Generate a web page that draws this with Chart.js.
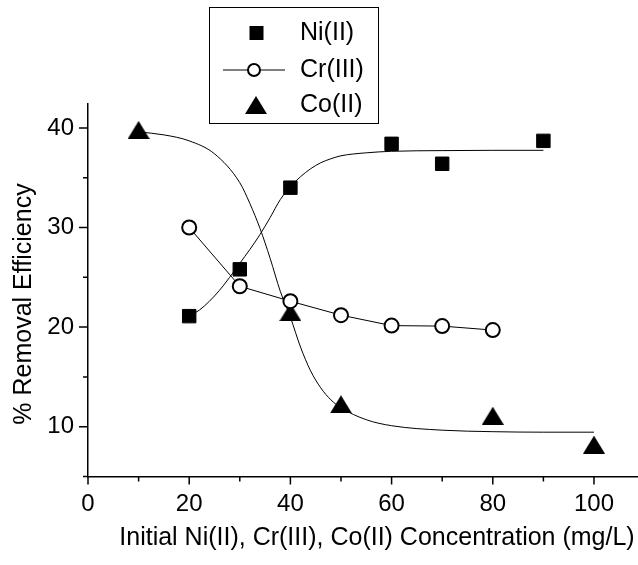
<!DOCTYPE html>
<html>
<head>
<meta charset="utf-8">
<script src="https://cdn.jsdelivr.net/npm/chart.js@4"></script>
<style>
  html, body { margin: 0; padding: 0; background: #fff; overflow: hidden; }
  #wrap { width: 638px; height: 565px; }
</style>
</head>
<body>
<div id="wrap"><canvas id="chart" width="638" height="565"></canvas></div>
<script>
// measured points
const niX = [20, 30, 40, 60, 70, 90];
const niY = [21.1, 25.8, 34.0, 38.4, 36.4, 38.7];
const crX = [20, 30, 40, 50, 60, 70, 80];
const crY = [30.0, 24.1, 22.6, 21.2, 20.15, 20.1, 19.7];
const coX = [10, 40, 50, 80, 100];
const coY = [39.8, 21.5, 12.25, 11.1, 8.2];

// fitted curves
const niFitX = [20, 22, 24, 26, 28, 30, 32, 34, 36, 38, 40, 42, 44, 46, 48, 50, 55, 60, 70, 80, 90];
const niFitY = [21.1, 21.7, 22.6, 23.7, 25.0, 26.4, 27.8, 29.3, 31.0, 32.8, 34.1, 35.1, 35.9, 36.5, 36.9, 37.2, 37.5, 37.65, 37.72, 37.75, 37.75];
const coFitX = [10, 15, 20, 25, 30, 32, 34, 36, 38, 40, 42, 44, 46, 48, 50, 55, 60, 70, 80, 90, 100];
const coFitY = [39.6, 39.3, 38.7, 37.4, 34.5, 32.4, 29.9, 26.9, 23.6, 21.0, 18.0, 15.6, 13.9, 12.7, 11.9, 10.7, 10.1, 9.65, 9.5, 9.45, 9.45];

// axis ticks
const xTickLabels = [0, 20, 40, 60, 80, 100];
const yTickLabels = [10, 20, 30, 40];
const xMinorTicks = [10, 30, 50, 70, 90];
const yMinorTicks = [5, 15, 25, 35];

const legendLabels = ['Ni(II)', 'Cr(III)', 'Co(II)'];
const xTitle = 'Initial Ni(II), Cr(III), Co(II) Concentration (mg/L)';
const yTitle = '% Removal Efficiency';

const FONT = "'Liberation Sans', Arial, sans-serif";

// filled triangle marker, centred on its bounding box
function makeTriangle(w, h) {
    const c = document.createElement('canvas');
    c.width = w;
    c.height = h;
    const g = c.getContext('2d');
    g.fillStyle = '#000';
    g.beginPath();
    g.moveTo(w / 2, 0);
    g.lineTo(w, h);
    g.lineTo(0, h);
    g.closePath();
    g.fill();
    return c;
}
const triImg = makeTriangle(22, 18);

const toPts = (xs, ys) => xs.map((x, i) => ({ x: x, y: ys[i] }));

// tick marks, titles and the boxed legend
const decorPlugin = {
    id: 'decor',
    afterDraw(chart) {
        const ctx = chart.ctx;
        const xs = chart.scales.x;
        const ys = chart.scales.y;
        const area = chart.chartArea;

        ctx.save();
        ctx.strokeStyle = '#000';
        ctx.lineWidth = 1.5;
        ctx.beginPath();
        xTickLabels.forEach(v => {
            const px = xs.getPixelForValue(v);
            ctx.moveTo(px, area.bottom); ctx.lineTo(px, area.bottom + 8);
        });
        xMinorTicks.forEach(v => {
            const px = xs.getPixelForValue(v);
            ctx.moveTo(px, area.bottom); ctx.lineTo(px, area.bottom + 5);
        });
        yTickLabels.forEach(v => {
            const py = ys.getPixelForValue(v);
            ctx.moveTo(area.left, py); ctx.lineTo(area.left - 9, py);
        });
        yMinorTicks.forEach(v => {
            const py = ys.getPixelForValue(v);
            ctx.moveTo(area.left, py); ctx.lineTo(area.left - 5, py);
        });
        ctx.stroke();

        // axis titles
        ctx.fillStyle = '#000';
        ctx.font = '25px ' + FONT;
        ctx.textAlign = 'center';
        ctx.textBaseline = 'middle';
        ctx.fillText(xTitle, 377, 538);
        ctx.save();
        ctx.translate(24, 304);
        ctx.rotate(-Math.PI / 2);
        ctx.fillText(yTitle, 0, 0);
        ctx.restore();

        // legend box
        ctx.fillStyle = '#fff';
        ctx.fillRect(209.5, 7.5, 169, 116);
        ctx.strokeStyle = '#000';
        ctx.lineWidth = 1;
        ctx.strokeRect(209.5, 7.5, 169, 116);

        const rows = [33, 70, 105];
        // Ni square
        ctx.fillStyle = '#000';
        ctx.fillRect(249.5, rows[0] - 7, 14, 14);
        // Cr line + open circle
        ctx.beginPath();
        ctx.moveTo(223, rows[1]); ctx.lineTo(285, rows[1]);
        ctx.stroke();
        ctx.beginPath();
        ctx.arc(254, rows[1], 6, 0, Math.PI * 2);
        ctx.fillStyle = '#fff';
        ctx.fill();
        ctx.lineWidth = 2;
        ctx.stroke();
        // Co triangle
        ctx.drawImage(triImg, 256 - triImg.width / 2, rows[2] - triImg.height / 2);

        ctx.fillStyle = '#000';
        ctx.font = '25px ' + FONT;
        ctx.textAlign = 'left';
        ctx.textBaseline = 'middle';
        legendLabels.forEach((t, i) => ctx.fillText(t, 300, rows[i]));
        ctx.restore();
    }
};

new Chart(document.getElementById('chart'), {
    type: 'scatter',
    data: {
        datasets: [
            {
                label: 'Ni(II)',
                data: toPts(niX, niY),
                showLine: false,
                pointStyle: 'rect',
                pointRadius: 9.5,
                backgroundColor: '#000',
                borderColor: '#000',
                borderWidth: 1,
                order: 1
            },
            {
                label: 'Cr(III)',
                data: toPts(crX, crY),
                showLine: true,
                borderColor: '#000',
                borderWidth: 1,
                pointStyle: 'circle',
                pointRadius: 7,
                pointBorderWidth: 2,
                pointBackgroundColor: '#fff',
                pointBorderColor: '#000',
                order: 1
            },
            {
                label: 'Co(II)',
                data: toPts(coX, coY),
                showLine: false,
                pointStyle: triImg,
                pointRadius: 11,
                order: 1
            },
            {
                label: 'Ni fit',
                data: toPts(niFitX, niFitY),
                showLine: true,
                pointRadius: 0,
                borderColor: '#000',
                borderWidth: 1,
                cubicInterpolationMode: 'monotone',
                order: 5
            },
            {
                label: 'Co fit',
                data: toPts(coFitX, coFitY),
                showLine: true,
                pointRadius: 0,
                borderColor: '#000',
                borderWidth: 1,
                cubicInterpolationMode: 'monotone',
                order: 5
            }
        ]
    },
    options: {
        responsive: false,
        animation: false,
        events: [],
        layout: { autoPadding: false, padding: { top: 104, right: 0, left: 0, bottom: 0 } },
        plugins: {
            legend: { display: false },
            tooltip: { enabled: false }
        },
        scales: {
            x: {
                type: 'linear',
                min: 0,
                max: 108.7,
                afterBuildTicks: s => { s.ticks = xTickLabels.map(v => ({ value: v })); },
                afterFit: s => { s.height = 88.5; s.paddingLeft = 0; s.paddingRight = 0; },
                grid: { display: false, drawTicks: false },
                border: { display: true, color: '#000', width: 1.5 },
                ticks: { color: '#000', padding: 13, font: { family: FONT, size: 24 } }
            },
            y: {
                type: 'linear',
                min: 5,
                max: 42.4,
                afterBuildTicks: s => { s.ticks = yTickLabels.map(v => ({ value: v })); },
                afterFit: s => { s.width = 88; s.paddingTop = 0; s.paddingBottom = 0; },
                grid: { display: false, drawTicks: false },
                border: { display: true, color: '#000', width: 1.5 },
                ticks: { color: '#000', padding: 14, font: { family: FONT, size: 24 } }
            }
        }
    },
    plugins: [decorPlugin]
});
</script>
</body>
</html>
